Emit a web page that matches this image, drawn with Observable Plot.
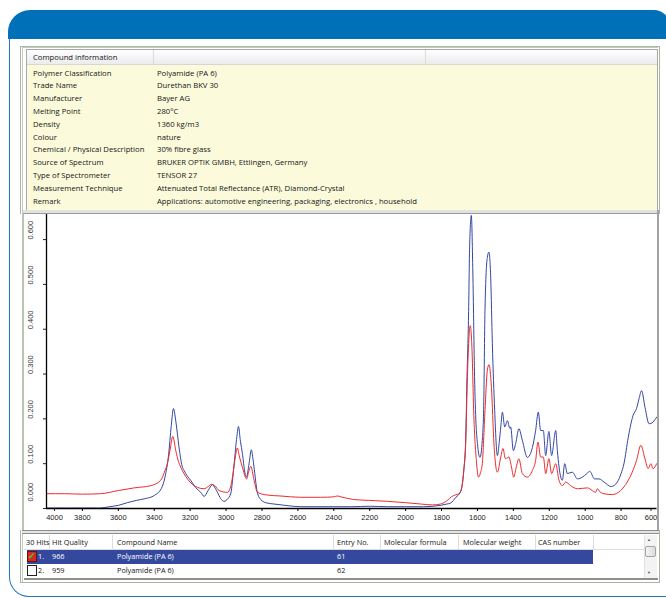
<!DOCTYPE html>
<html><head><meta charset="utf-8">
<script src="https://cdn.jsdelivr.net/npm/d3@7"></script>
<script src="https://cdn.jsdelivr.net/npm/@observablehq/plot@0.6"></script>
<style>
html,body{margin:0;padding:0;}
body{width:666px;height:598px;overflow:hidden;background:#fff;position:relative;font-family:"Open Sans","Noto Sans",sans-serif;color:#151515;}
.a{position:absolute;box-sizing:border-box;}
.t{position:absolute;white-space:nowrap;font-size:7.7px;line-height:12.8px;}
.h{font-size:7.3px;}
</style></head><body>
<script>
// ---------- data ----------
const infoLabels = ["Polymer Classification","Trade Name","Manufacturer","Melting Point","Density","Colour","Chemical / Physical Description","Source of Spectrum","Type of Spectrometer","Measurement Technique","Remark"];
const infoValues = ["Polyamide (PA 6)","Durethan BKV 30","Bayer AG","280°C","1360 kg/m3","nature","30% fibre glass","BRUKER OPTIK GMBH, Ettlingen, Germany","TENSOR 27","Attenuated Total Reflectance (ATR), Diamond-Crystal","Applications: automotive engineering, packaging, electronics , household"];
const hitColumns = ["30 Hits","Hit Quality","Compound Name","Entry No.","Molecular formula","Molecular weight","CAS number"];
const hitRank = ["1.","2."];
const hitQuality = ["966","959"];
const hitName = ["Polyamide (PA 6)","Polyamide (PA 6)"];
const hitEntry = ["61","62"];

const xTicks = [3800,3600,3400,3200,3000,2800,2600,2400,2200,2000,1800,1600,1400,1200,1000,800];
const yTicks = [0.1,0.2,0.3,0.4,0.5,0.6];

const blueWn = [4000,3900,3800,3700,3650,3600,3550,3500,3450,3400,3360,3340,3320,3305,3293,3280,3262,3245,3234,3215,3197,3170,3141,3122,3100,3076,3060,3048,3030,3011,2990,2974,2955,2940,2931,2920,2909,2895,2886,2872,2859,2850,2840,2828,2816,2780,2733,2650,2584,2500,2400,2300,2200,2100,2000,1900,1805,1770,1750,1720,1695,1676,1665,1658,1650,1643,1634,1625,1616,1608,1600,1586,1573,1565,1558,1545,1536,1526,1517,1504,1489,1478,1470,1461,1448,1433,1420,1415,1400,1387,1369,1350,1322,1294,1276,1261,1248,1233,1220,1202,1187,1164,1155,1136,1127,1114,1099,1071,1043,1016,990,975,947,923,895,855,821,800,784,760,733,714,700,686,667,644,622,602];
const blueAbs = [0.001,0.001,0.001,0.001,0.004,0.007,0.013,0.018,0.022,0.029,0.045,0.070,0.120,0.185,0.223,0.195,0.137,0.095,0.085,0.072,0.063,0.047,0.036,0.027,0.040,0.053,0.045,0.036,0.022,0.016,0.022,0.033,0.100,0.160,0.183,0.150,0.123,0.080,0.070,0.100,0.131,0.110,0.078,0.040,0.025,0.013,0.010,0.006,0.004,0.004,0.004,0.004,0.005,0.004,0.004,0.004,0.007,0.010,0.012,0.025,0.037,0.085,0.160,0.294,0.420,0.592,0.654,0.514,0.294,0.190,0.145,0.114,0.152,0.230,0.442,0.560,0.572,0.514,0.368,0.219,0.118,0.150,0.182,0.215,0.182,0.196,0.179,0.182,0.129,0.145,0.178,0.152,0.114,0.136,0.174,0.215,0.174,0.174,0.118,0.172,0.118,0.174,0.129,0.070,0.063,0.100,0.078,0.081,0.066,0.070,0.078,0.083,0.066,0.066,0.059,0.049,0.059,0.078,0.100,0.159,0.208,0.223,0.245,0.263,0.226,0.189,0.193,0.204];

const redWn = [4000,3900,3800,3700,3600,3512,3419,3364,3340,3327,3310,3297,3280,3265,3252,3215,3159,3122,3100,3080,3060,3039,2992,2975,2964,2950,2937,2925,2909,2885,2875,2862,2844,2825,2770,2700,2584,2473,2400,2380,2360,2289,2200,2101,2000,1916,1850,1805,1768,1745,1732,1710,1695,1676,1665,1658,1649,1640,1630,1621,1606,1594,1583,1573,1558,1545,1536,1522,1508,1489,1470,1458,1444,1425,1412,1398,1385,1369,1350,1322,1294,1276,1263,1248,1233,1220,1202,1187,1164,1146,1127,1109,1081,1043,988,960,942,932,915,895,849,803,766,738,714,690,667,649,634,622,602];
const redAbs = [0.033,0.033,0.032,0.033,0.040,0.046,0.051,0.063,0.085,0.100,0.135,0.161,0.129,0.105,0.092,0.066,0.047,0.044,0.049,0.054,0.050,0.040,0.036,0.048,0.070,0.110,0.135,0.115,0.092,0.066,0.080,0.094,0.063,0.036,0.030,0.028,0.025,0.025,0.026,0.028,0.026,0.020,0.018,0.016,0.013,0.010,0.008,0.010,0.018,0.026,0.029,0.032,0.036,0.085,0.150,0.264,0.368,0.408,0.352,0.218,0.107,0.070,0.080,0.100,0.218,0.308,0.321,0.270,0.144,0.081,0.115,0.134,0.111,0.115,0.096,0.070,0.090,0.111,0.078,0.070,0.085,0.107,0.148,0.115,0.115,0.078,0.111,0.078,0.100,0.063,0.051,0.059,0.051,0.044,0.046,0.040,0.036,0.044,0.036,0.033,0.031,0.040,0.059,0.081,0.107,0.141,0.111,0.089,0.100,0.089,0.100];

// ---------- helpers ----------
function box(l,t,w,h,css){const d=document.createElement("div");d.className="a";Object.assign(d.style,{left:l+"px",top:t+"px",width:w+"px",height:h+"px"},css||{});document.body.appendChild(d);return d;}
function txt(l,cy,s,css,cls){const d=document.createElement("div");d.className="t"+(cls?" "+cls:"");d.textContent=s;Object.assign(d.style,{left:l+"px",top:(cy-6.4)+"px"},css||{});document.body.appendChild(d);return d;}

// blue window chrome
box(8,10,662,29,{background:"#0070b9",borderTopLeftRadius:"22px",borderTopRightRadius:"16px"});
box(9,38,680,559,{border:"1.5px solid #2a78c0",borderTop:"none",borderBottomLeftRadius:"20px"});
// outer grey-green frame
box(20,46,640,537,{border:"1px solid #a9b7a2",background:"#fff"});
box(22,47,636,535,{borderLeft:"1px solid #c3cdbb",borderTop:"1px solid #c3cdbb"});

// compound info table
box(26,49,632,162,{background:"#fbfbdc",border:"1px solid #a8a8a8"});
box(27,50,630,15,{background:"linear-gradient(#fefefe,#ececef)",borderBottom:"1px solid #d6d6d6"});
box(153,50,1,15,{background:"#dadada"});
box(425,50,1,15,{background:"#dadada"});
txt(33,57.5,"Compound information");
infoLabels.forEach((s,i)=>{const cy=73+i*12.8;txt(33,cy,s);txt(157,cy,infoValues[i]);});

// grey separator above plot
box(23,210,636,4,{background:"#e2e2e2",borderBottom:"1.5px solid #9b9b9b"});

// plot
const blue = blueWn.map((w,i)=>({wn:w,a:blueAbs[i]}));
const red = redWn.map((w,i)=>({wn:w,a:redAbs[i]}));
const fmt = d3.format(".3f");
const chart = Plot.plot({
  width:640,height:316,marginLeft:26,marginRight:3.5,marginTop:0,marginBottom:22,
  style:{fontFamily:"Liberation Sans, Arial, sans-serif",fontSize:"7.5px",background:"#fff",color:"#222"},
  x:{domain:[4000,600]},
  y:{domain:[0,0.656]},
  marks:[
    Plot.line(blue,{x:"wn",y:"a",stroke:"#3347a3",strokeWidth:1,curve:"monotone-x"}),
    Plot.line(red,{x:"wn",y:"a",stroke:"#ee2b2b",strokeWidth:1,curve:"monotone-x"}),
    Plot.ruleY([0],{stroke:"#000",strokeWidth:1.3}),
    Plot.ruleX([4000],{stroke:"#000",strokeWidth:1.3}),
    Plot.axisX({ticks:xTicks,tickSize:3,tickPadding:3,tickFormat:d3.format("d"),label:null,stroke:"#000"}),
    Plot.axisX({ticks:[4000],tickSize:3,tickPadding:3,tickFormat:d3.format("d"),label:null,dx:8}),
    Plot.axisX({ticks:[600],tickSize:3,tickPadding:3,tickFormat:d3.format("d"),label:null,dx:-6}),
    Plot.axisY({ticks:[0,...yTicks],tickSize:3,tickFormat:()=>"",label:null}),
    Plot.text(yTicks,{y:d=>d,frameAnchor:"left",text:d=>fmt(d),rotate:-90,dx:-16,fill:"#333"}),
    Plot.text([0],{y:d=>d,frameAnchor:"left",text:d=>fmt(d),rotate:-90,dx:-16,dy:-7,fill:"#333"})
  ]
});
const holder = box(20,214,640,316,{});
holder.appendChild(chart);
// plot borders
box(657,210,2,322,{background:"#a3a3a3"});
box(22,214,2,318,{background:"#b8c3b2"});
box(22,530,637,4,{background:"#e4e4e4",borderTop:"1px solid #8d8d8d",borderBottom:"1px solid #8d8d8d"});

// hits table
box(24,534,634,46,{background:"#fff",borderBottom:"2px solid #8f8f8f"});
box(24,535,620,15,{background:"#fff",borderBottom:"1px solid #dcdcdc"});
const sepX=[49,112,333,380,458,535,593];
sepX.forEach(x=>box(x,535,1,15,{background:"#dcdcdc"}));
const colX=[26,52,117,337,384,463,538];
hitColumns.forEach((s,i)=>txt(colX[i],542.5,s,{},"h"));
box(27,550,566,14,{background:"#34499d"});
// row 1
box(27,551,10,11,{background:"#d42a22",border:"1px solid #6a1010"});
txt(28,556.5,"✓",{color:"#3bd23b",fontSize:"9px",fontWeight:"bold"});
txt(38,556.5,hitRank[0],{color:"#fff"},"h");
txt(52,556.5,hitQuality[0],{color:"#fff"},"h");
txt(117,556.5,hitName[0],{color:"#fff"},"h");
txt(337,556.5,hitEntry[0],{color:"#fff"},"h");
// row 2
box(27,565,10,11,{background:"#fff",border:"1px solid #222"});
txt(38,570.5,hitRank[1],{},"h");
txt(52,570.5,hitQuality[1],{},"h");
txt(117,570.5,hitName[1],{},"h");
txt(337,570.5,hitEntry[1],{},"h");
// scrollbar
box(644,535,13,43,{background:"#f3f3f3",borderLeft:"1px solid #e2e2e2"});
box(645,546,11,11,{background:"linear-gradient(90deg,#f4f4f4,#dcdcdc)",border:"1px solid #a5a5a5",borderRadius:"2px"});
txt(647,540,"▲",{fontSize:"4px",color:"#555"});
txt(647,573,"▼",{fontSize:"4px",color:"#555"});
</script>
</body></html>
